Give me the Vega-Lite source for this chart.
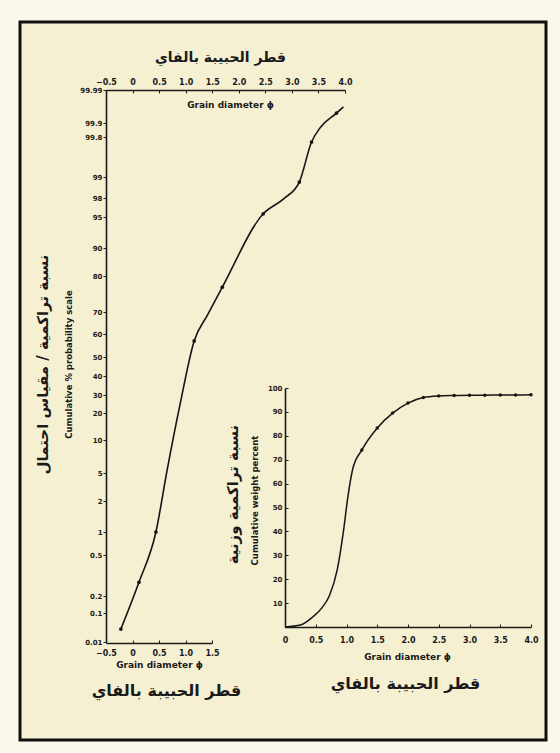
{
  "$schema": "https://vega.github.io/schema/vega-lite/v6.json",
  "width": 526,
  "height": 718,
  "autosize": {"type": "none"},
  "padding": {"left": 20, "top": 22, "right": 14, "bottom": 13},
  "background": "#fbf9ec",
  "datasets": {
    "probit": [
      {"phi": -0.22, "pct": 0.05, "measured": true},
      {"phi": 0.12, "pct": 0.3, "measured": true},
      {"phi": 0.44, "pct": 1.0, "measured": true},
      {"phi": 0.65, "pct": 5.4, "measured": false},
      {"phi": 0.9, "pct": 25.6, "measured": false},
      {"phi": 1.16, "pct": 57, "measured": true},
      {"phi": 1.41, "pct": 68.6, "measured": false},
      {"phi": 1.69, "pct": 76.9, "measured": true},
      {"phi": 2.46, "pct": 95.5, "measured": true},
      {"phi": 2.85, "pct": 97.9, "measured": false},
      {"phi": 3.14, "pct": 98.76, "measured": true},
      {"phi": 3.37, "pct": 99.7, "measured": true},
      {"phi": 3.54, "pct": 99.87, "measured": false},
      {"phi": 3.84, "pct": 99.927, "measured": true},
      {"phi": 3.97, "pct": 99.944, "measured": false}
    ],
    "weight": [
      {"phi": 0, "pct": 0, "measured": false},
      {"phi": 0.25, "pct": 0.8, "measured": false},
      {"phi": 0.45, "pct": 4.2, "measured": false},
      {"phi": 0.6, "pct": 8, "measured": false},
      {"phi": 0.72, "pct": 13, "measured": false},
      {"phi": 0.85, "pct": 24, "measured": false},
      {"phi": 0.95, "pct": 40, "measured": false},
      {"phi": 1.02, "pct": 54, "measured": false},
      {"phi": 1.1, "pct": 66, "measured": false},
      {"phi": 1.25, "pct": 74.1, "measured": true},
      {"phi": 1.5, "pct": 83.3, "measured": true},
      {"phi": 1.75, "pct": 89.5, "measured": true},
      {"phi": 2.0, "pct": 93.7, "measured": true},
      {"phi": 2.25, "pct": 96.0, "measured": true},
      {"phi": 2.5, "pct": 96.7, "measured": true},
      {"phi": 2.75, "pct": 96.9, "measured": true},
      {"phi": 3.0, "pct": 97.0, "measured": true},
      {"phi": 3.25, "pct": 97.0, "measured": true},
      {"phi": 3.5, "pct": 97.1, "measured": true},
      {"phi": 3.75, "pct": 97.1, "measured": true},
      {"phi": 4.0, "pct": 97.2, "measured": true}
    ]
  },
  "layer": [
    {
      "data": {"name": "probit"},
      "mark": {"type": "line", "interpolate": "monotone", "color": "#151515", "strokeWidth": 1.6},
      "encoding": {
        "x": {
          "field": "phi", "type": "quantitative",
          "scale": {"domain": [-0.5, 4], "range": [86, 325], "nice": false, "zero": false},
          "axis": {
            "orient": "top", "offset": -68,
            "values": [-0.5, 0, 0.5, 1, 1.5, 2, 2.5, 3, 3.5, 4],
            "labelExpr": "datum.value == 0 ? '0' : format(datum.value, '.1f')",
            "labelFontSize": 8, "tickSize": -3, "labelPadding": 7,
            "title": "قطر الحبيبة بالفاي", "titleX": 200, "titleY": -33,
            "titleBaseline": "middle", "titleFontSize": 14
          }
        },
        "y": {
          "field": "pct", "type": "quantitative",
          "scale": {
            "domain": [0.01, 0.1, 0.2, 0.5, 1, 2, 5, 10, 20, 30, 40, 50, 60, 70, 80, 90, 95, 98, 99, 99.8, 99.9, 99.99],
            "range": [620, 591, 574, 533, 510, 479, 451, 418, 391, 373, 354, 335, 312, 290, 254, 226, 195, 176, 155, 115, 101, 68],
            "nice": false, "zero": false
          },
          "axis": {
            "orient": "left", "offset": -86,
            "values": [0.01, 0.1, 0.2, 0.5, 1, 2, 5, 10, 20, 30, 40, 50, 60, 70, 80, 90, 95, 98, 99, 99.8, 99.9, 99.99],
            "labelExpr": "'' + datum.value",
            "labelFontSize": 7, "tickSize": 3, "labelPadding": 1,
            "title": "نسبة تراكمية / مقياس احتمال", "titleX": -64, "titleY": 342,
            "titleBaseline": "middle", "titleFontSize": 15
          }
        }
      }
    },
    {
      "data": {"name": "probit"},
      "transform": [{"filter": "datum.measured"}],
      "mark": {"type": "point", "filled": true, "color": "#151515", "size": 14, "opacity": 1},
      "encoding": {
        "x": {
          "field": "phi", "type": "quantitative",
          "scale": {"domain": [-0.5, 4], "range": [86, 325], "nice": false, "zero": false},
          "axis": {
            "orient": "top", "offset": -68, "labels": false, "ticks": false, "domain": false,
            "title": "Grain diameter ϕ", "titleX": 210, "titleY": 14,
            "titleBaseline": "middle", "titleFontSize": 9
          }
        },
        "y": {
          "field": "pct", "type": "quantitative",
          "scale": {
            "domain": [0.01, 0.1, 0.2, 0.5, 1, 2, 5, 10, 20, 30, 40, 50, 60, 70, 80, 90, 95, 98, 99, 99.8, 99.9, 99.99],
            "range": [620, 591, 574, 533, 510, 479, 451, 418, 391, 373, 354, 335, 312, 290, 254, 226, 195, 176, 155, 115, 101, 68],
            "nice": false, "zero": false
          },
          "axis": {
            "orient": "left", "offset": -86, "labels": false, "ticks": false, "domain": false,
            "title": "Cumulative % probability scale", "titleX": -38, "titleY": 342,
            "titleBaseline": "middle", "titleFontSize": 8.5
          }
        }
      }
    },
    {
      "data": {"name": "probit"},
      "mark": {"type": "point", "opacity": 0},
      "encoding": {
        "x": {
          "field": "phi", "type": "quantitative",
          "scale": {"domain": [-0.5, 1.5], "range": [86, 192], "nice": false, "zero": false},
          "axis": {
            "orient": "bottom", "offset": -97,
            "values": [-0.5, 0, 0.5, 1, 1.5],
            "labelExpr": "datum.value == 0 ? '0' : format(datum.value, '.1f')",
            "labelFontSize": 8, "tickSize": -3, "labelPadding": 9,
            "title": "Grain diameter ϕ", "titleX": 139, "titleY": 21,
            "titleBaseline": "middle", "titleFontSize": 9
          }
        },
        "y": {"field": "pct", "type": "quantitative", "scale": {"domain": [0, 100], "range": [620, 68], "nice": false}, "axis": null}
      }
    },
    {
      "data": {"name": "probit"},
      "mark": {"type": "point", "opacity": 0},
      "encoding": {
        "x": {
          "field": "phi", "type": "quantitative",
          "scale": {"domain": [-0.5, 1.5], "range": [86, 192], "nice": false, "zero": false},
          "axis": {
            "orient": "bottom", "offset": -97, "labels": false, "ticks": false, "domain": false,
            "title": "قطر الحبيبة بالفاي", "titleX": 146, "titleY": 47,
            "titleBaseline": "middle", "titleFontSize": 16
          }
        },
        "y": {"field": "pct", "type": "quantitative", "scale": {"domain": [0, 100], "range": [620, 68], "nice": false}, "axis": null}
      }
    },
    {
      "data": {"name": "weight"},
      "mark": {"type": "line", "interpolate": "monotone", "color": "#151515", "strokeWidth": 1.5},
      "encoding": {
        "x": {
          "field": "phi", "type": "quantitative",
          "scale": {"domain": [0, 4], "range": [265, 511], "nice": false, "zero": false},
          "axis": {
            "orient": "bottom", "offset": -113,
            "values": [0, 0.5, 1, 1.5, 2, 2.5, 3, 3.5, 4],
            "labelExpr": "datum.value == 0 ? '0' : format(datum.value, '.1f')",
            "labelFontSize": 8, "tickSize": -3, "labelPadding": 12,
            "title": "Grain diameter ϕ", "titleX": 387, "titleY": 29,
            "titleBaseline": "middle", "titleFontSize": 9
          }
        },
        "y": {
          "field": "pct", "type": "quantitative",
          "scale": {"domain": [0, 100], "range": [605, 366], "nice": false, "zero": false},
          "axis": {
            "orient": "left", "offset": -265,
            "values": [10, 20, 30, 40, 50, 60, 70, 80, 90, 100],
            "labelFontSize": 7, "tickSize": -3, "labelPadding": 6,
            "title": "Cumulative weight percent", "titleX": -31, "titleY": 478,
            "titleBaseline": "middle", "titleFontSize": 8.5
          }
        }
      }
    },
    {
      "data": {"name": "weight"},
      "transform": [{"filter": "datum.measured"}],
      "mark": {"type": "point", "filled": true, "color": "#151515", "size": 12, "opacity": 1},
      "encoding": {
        "x": {
          "field": "phi", "type": "quantitative",
          "scale": {"domain": [0, 4], "range": [265, 511], "nice": false, "zero": false},
          "axis": {
            "orient": "bottom", "offset": -113, "labels": false, "ticks": false, "domain": false,
            "title": "قطر الحبيبة بالفاي", "titleX": 385, "titleY": 56,
            "titleBaseline": "middle", "titleFontSize": 16
          }
        },
        "y": {
          "field": "pct", "type": "quantitative",
          "scale": {"domain": [0, 100], "range": [605, 366], "nice": false, "zero": false},
          "axis": {
            "orient": "left", "offset": -265, "labels": false, "ticks": false, "domain": false,
            "title": "نسبة تراكمية وزنية", "titleX": -53, "titleY": 472,
            "titleBaseline": "middle", "titleFontSize": 15
          }
        }
      }
    }
  ],
  "resolve": {
    "scale": {"x": "independent", "y": "independent"},
    "axis": {"x": "independent", "y": "independent"}
  },
  "config": {
    "view": {"fill": "#f6f0d2", "stroke": "#111111", "strokeWidth": 3},
    "axis": {
      "grid": false,
      "labelFont": "DejaVu Sans",
      "titleFont": "DejaVu Sans",
      "labelFontWeight": "bold",
      "titleFontWeight": "bold",
      "labelColor": "#1a1a1a",
      "titleColor": "#1a1a1a",
      "domainColor": "#1a1a1a",
      "tickColor": "#1a1a1a",
      "domainWidth": 1.6,
      "tickWidth": 1,
      "labelOverlap": false,
      "labelFlush": false,
      "labelBound": false
    }
  }
}
